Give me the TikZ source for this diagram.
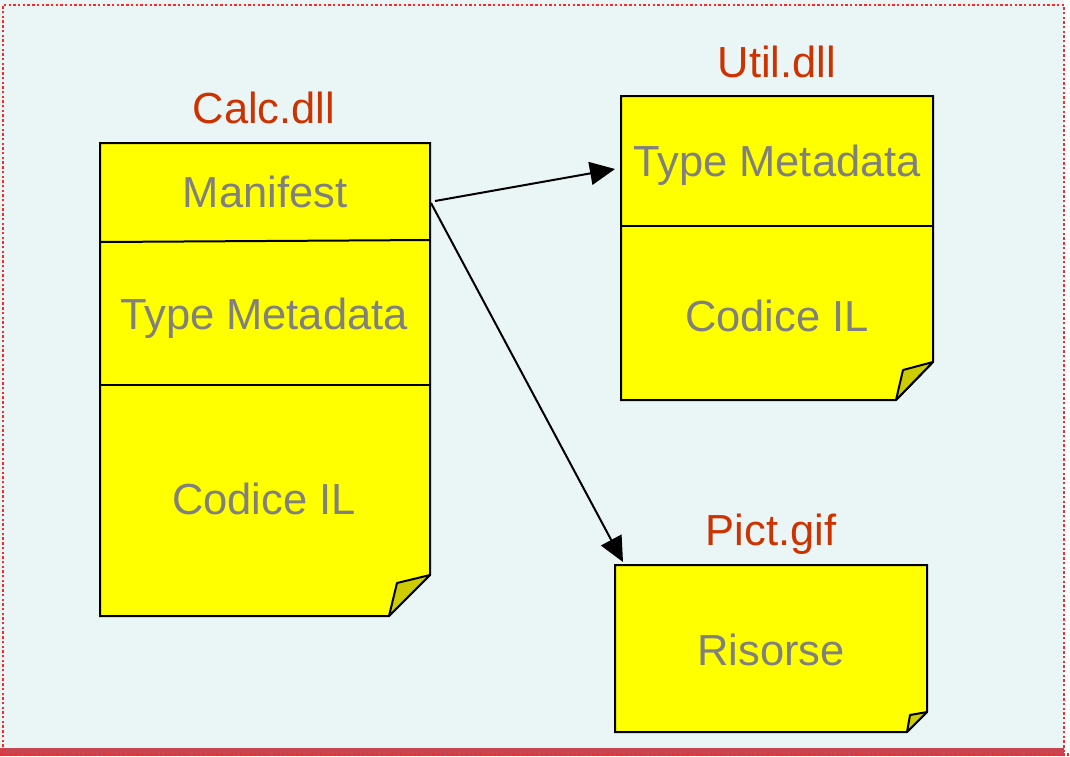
\documentclass[tikz,border=0pt]{standalone}
\usepackage{fontspec}
\setmainfont{Liberation Sans}
\usetikzlibrary{arrows.meta}
\definecolor{bgc}{RGB}{234,245,245}
\definecolor{titlec}{RGB}{204,51,0}
\definecolor{textc}{RGB}{128,128,128}
\definecolor{foldc}{RGB}{204,204,0}
\definecolor{bandc}{RGB}{200,70,80}
\definecolor{dotc}{RGB}{255,40,40}
\definecolor{paperc}{RGB}{255,255,0}
\begin{document}
\begin{tikzpicture}[x=1pt,y=-1pt,
  paper/.style={fill=paperc,draw=black,line width=2pt,line join=miter},
  fold/.style={fill=foldc,draw=black,line width=2pt,line join=round},
  sep/.style={draw=black,line width=2pt},
  title/.style={text=titlec,font=\fontsize{43.5}{52}\selectfont,anchor=base,inner sep=0pt},
  lbl/.style={text=textc,font=\fontsize{43.5}{52}\selectfont,anchor=base,inner sep=0pt},
  link/.style={draw=black,line width=2pt,-{Triangle[length=25pt,width=23pt]}},
  border/.style={draw=dotc,line width=2.6pt,dash pattern=on 2.4pt off 2.3pt}]
\useasboundingbox (0,0) rectangle (1070,756);
\fill[white] (0,0) rectangle (1070,756);
\fill[bgc] (0,0) rectangle (1064,749);
\fill[bandc] (0,748) rectangle (1064,756);
\draw[border] (3,756) -- (3,5) -- (1064,5) -- (1064,756);
\draw[border] (0,754.5) -- (1070,754.5);
% Calc.dll
\draw[paper] (100,143) -- (430,143) -- (430,575) -- (389,616) -- (100,616) -- cycle;
\draw[fold] (430,575) -- (397,583) -- (389,616) -- cycle;
\draw[sep] (100,242) -- (430,240);
\draw[sep] (100,385) -- (430,385);
\node[title] (calc) at (264,123) {Calc.dll};
\node[lbl] (manifest) at (265,207) {Manifest};
\node[lbl] (tm1) at (264,329) {Type Metadata};
\node[lbl] (il1) at (264,514) {Codice IL};
% Util.dll
\draw[paper] (621,96) -- (933,96) -- (933,362) -- (896,400) -- (621,400) -- cycle;
\draw[fold] (933,362) -- (903,370) -- (896,400) -- cycle;
\draw[sep] (621,226) -- (933,226);
\node[title] (util) at (777,77) {Util.dll};
\node[lbl] (tm2) at (777,176) {Type Metadata};
\node[lbl] (il2) at (777,331) {Codice IL};
% Pict.gif
\draw[paper] (615,565) -- (927,565) -- (927,712) -- (907,732) -- (615,732) -- cycle;
\draw[fold] (927,712) -- (910,715) -- (907,732) -- cycle;
\node[title] (pict) at (771,545) {Pict.gif};
\node[lbl] (ris) at (771,665) {Risorse};
% connectors
\coordinate (m1) at (435,201);
\coordinate (m2) at (431,203);
\coordinate (utilin) at (615,169);
\coordinate (pictin) at (623,562);
\draw[link] (m1) -- (utilin);
\draw[link] (m2) -- (pictin);
\end{tikzpicture}
\end{document}
